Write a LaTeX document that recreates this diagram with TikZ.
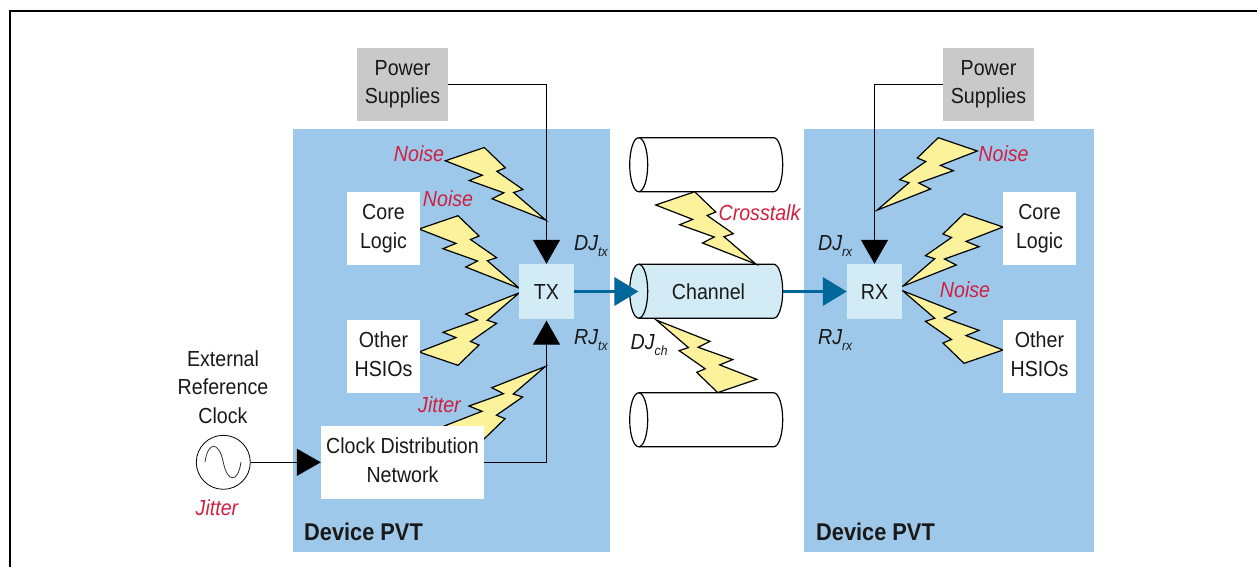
\documentclass[tikz,border=0pt]{standalone}
\usepackage{fontspec}
\setmainfont[FakeStretch=0.9]{Liberation Sans}
\usetikzlibrary{arrows.meta,positioning,shapes.geometric,calc}
\definecolor{device}{HTML}{9EC8EA}
\definecolor{lane}{HTML}{D2EBF4}
\definecolor{supply}{HTML}{C9C9C9}
\definecolor{spark}{HTML}{FBF29B}
\definecolor{signal}{HTML}{00679B}
\definecolor{impair}{HTML}{CF2040}
\newcommand{\jitname}[2]{{\itshape #1\raisebox{-6pt}{\fontsize{13.5}{13.5}\selectfont #2}}}
\tikzset{
  txt/.style={font=\fontsize{21.8}{28.5}\selectfont,align=center,text=black!90,inner sep=0pt},
  block/.style={txt,fill=white,minimum width=73pt,minimum height=73pt},
  lanebox/.style={txt,fill=lane,minimum width=55pt,minimum height=55pt},
  supplybox/.style={txt,fill=supply,minimum width=91pt,minimum height=73pt},
  red label/.style={font=\fontsize{21.8}{24}\selectfont\itshape,text=impair,inner sep=0pt},
  jit label/.style={font=\fontsize{21.8}{24}\selectfont,anchor=base west,inner sep=0pt,text=black!90},
  pvt label/.style={font=\fontsize{24.2}{26}\selectfont\bfseries,anchor=base west,inner sep=0pt,text=black!90},
  wire/.style={line width=1.3pt,-{Triangle[width=27pt,length=24pt]}},
  flow/.style={signal,line width=3.6pt,-{Triangle[width=28pt,length=24pt]}},
  bolt/.pic={
    \draw[black,fill=spark,line width=1.2pt] (0,0) -- (39,-13.3) -- (60,7) -- (51.5,10.5) -- (77.6,28.7)
      -- (68.3,31.7) -- (100.3,59.2) -- (46.8,38) -- (58.5,32) -- (24,19.7) -- (37,14.4) -- cycle;
  },
  cable/.pic={
    \draw[black,fill=#1,line width=1.2pt] (-67.5,-27) -- (67.5,-27)
      arc[start angle=-90,end angle=90,x radius=9,y radius=27] -- (-67.5,27)
      arc[start angle=90,end angle=270,x radius=9,y radius=27] -- cycle;
    \draw[black,line width=1.2pt] (-67.5,-27) arc[start angle=-90,end angle=90,x radius=9,y radius=27];
  }
}
\begin{document}
\begin{tikzpicture}[x=1pt,y=-1pt]
  \useasboundingbox (0,0) rectangle (1257,567);
  % Page frame
  \draw[black,line width=2.2pt] (10,567) -- (10,11) -- (1257,11);

  % Device backgrounds
  \fill[device] (293,129) rectangle (610,552);
  \fill[device] (804,129) rectangle (1094,552);
  \node[pvt label] (pvttx) at (304,540) {Device PVT};
  \node[pvt label] (pvtrx) at (816,540) {Device PVT};

  % Cables
  \pic at (706.2,164.7) {cable=white};
  \pic at (706.2,291.2) {cable=lane};
  \pic at (706.2,419.8) {cable=white};

  % Lightning bolts
  \pic at (445.3,160.8) {bolt};
  \pic at (419,229) {bolt};
  \pic[yscale=-1] at (419,352) {bolt};
  \pic[yscale=-1] at (445,425.7) {bolt};
  \pic at (655.7,205) {bolt};
  \pic[xscale=-1,yscale=-1] at (756.7,379.3) {bolt};
  \pic[xscale=-1] at (977.3,151) {bolt};
  \pic[xscale=-1] at (1003,227) {bolt};
  \pic[xscale=-1,yscale=-1] at (1003,350) {bolt};

  % Blocks
  \node[supplybox] (powertx) at (402.5,84.5) {Power\\Supplies};
  \node[supplybox] (powerrx) at (988.5,84.5) {Power\\Supplies};
  \node[block] (coretx) at (383.5,228.5) {Core\\Logic};
  \node[block] (othertx) at (383.5,356.5) {Other\\HSIOs\vphantom{g}};
  \node[block] (corerx) at (1039.5,228.5) {Core\\Logic};
  \node[block] (otherrx) at (1039.5,356.5) {Other\\HSIOs\vphantom{g}};
  \node[block,minimum width=163pt] (cdn) at (402.5,462.3) {Clock Distribution\\Network\vphantom{g}};
  \node[lanebox] (tx) at (546.5,291.5) {TX};
  \node[lanebox] (rx) at (874.5,291.5) {RX};
  \node[txt,minimum width=148.4pt,minimum height=54pt] (channel) at (708.5,291.5) {Channel};

  % Reference clock
  \node[circle,draw=black,line width=0.8pt,minimum size=54pt,inner sep=0pt] (clk) at (223.3,462.3) {};
  \draw[black!80,line width=0.8pt] (205,462) .. controls (208,441) and (219,441) .. (223.3,462.3)
    .. controls (227.5,483) and (238,483) .. (241,462);
  \node[txt] (extclk) at (223,387) {External\\Reference\\Clock};

  % Connectors
  \draw[wire] (powertx.east) -| (tx.north);
  \draw[wire] (powerrx.west) -| (rx.north);
  \draw[wire] (clk) -- (cdn);
  \draw[wire,shorten >=1.5pt] (cdn.east) -| (tx.south);
  \draw[flow,shorten >=-4.3pt] (tx.east) -- (channel.west);
  \draw[flow] (channel.east) -- (rx.west);

  % Impairment labels
  \node[red label] (noisea) at (419,153.5) {Noise};
  \node[red label] (noiseb) at (448,199) {Noise};
  \node[red label] (noisec) at (1003.5,154) {Noise};
  \node[red label] (noised) at (965,290) {Noise};
  \node[red label] (jittera) at (439.5,405) {Jitter};
  \node[red label] (jitterb) at (217,507.5) {Jitter};
  \node[red label] (xtalk) at (759.5,212.5) {Crosstalk};

  \node[jit label] (djtx) at (574,250) {\jitname{DJ}{tx}};
  \node[jit label] (rjtx) at (574,344) {\jitname{RJ}{tx}};
  \node[jit label] (djch) at (630.5,349.3) {\jitname{DJ}{ch}};
  \node[jit label] (djrx) at (818,250) {\jitname{DJ}{rx}};
  \node[jit label] (rjrx) at (818,344) {\jitname{RJ}{rx}};
\end{tikzpicture}
\end{document}
